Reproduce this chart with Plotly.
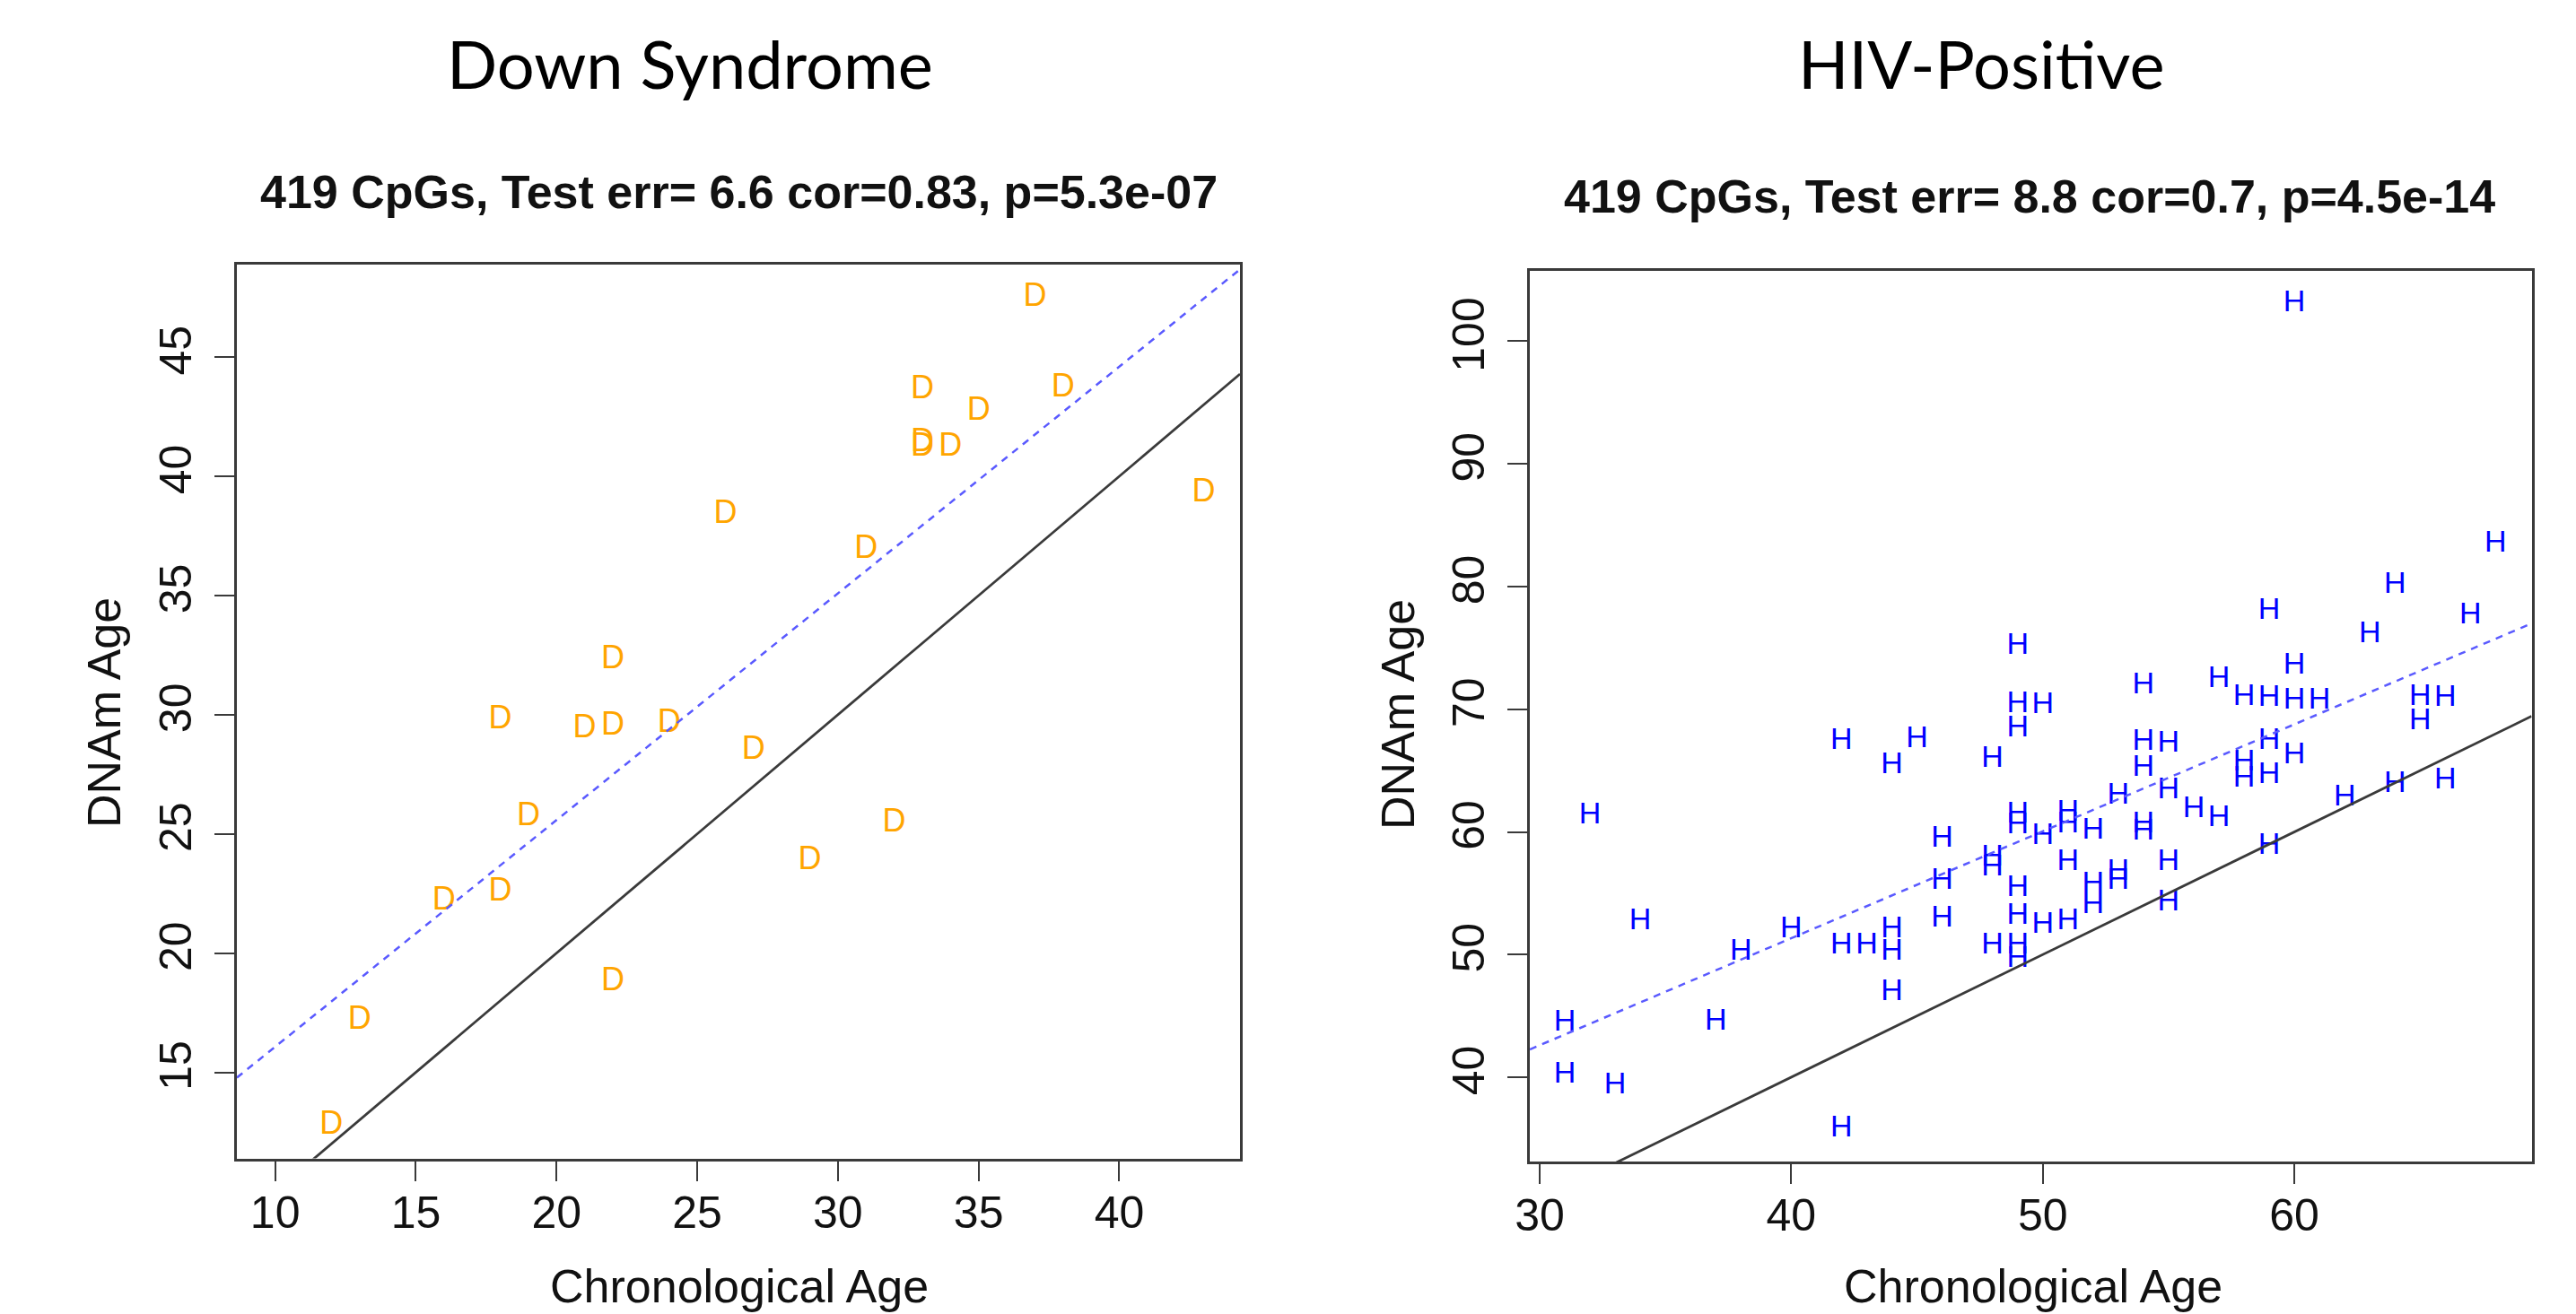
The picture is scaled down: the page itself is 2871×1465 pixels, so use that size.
import plotly.graph_objects as go

# ---------------- data ----------------
# Down Syndrome panel
ds_age = [37, 33, 38, 35, 33, 33, 34, 43, 26, 31, 22, 18, 21, 22, 24, 27,
          19, 32, 29, 16, 18, 22, 13, 12]
ds_dnam = [47.5, 43.6, 43.7, 42.7, 41.4, 41.2, 41.2, 39.3, 38.4, 36.9, 32.3,
           29.75, 29.4, 29.5, 29.6, 28.5, 25.7, 25.45, 23.85, 22.15, 22.55,
           18.8, 17.15, 12.75]
ds_fit_intercept = 6.56
ds_fit_slope = 0.951

# HIV-Positive panel
hiv_age = [31, 31, 32, 33, 34, 37, 38, 40,
           42, 42, 42, 43,
           44, 44, 44, 44, 45,
           46, 46, 46,
           48, 48, 48, 48,
           49, 49, 49, 49, 49, 49, 49, 49, 49,
           50, 50, 50,
           51, 51, 51, 51,
           52, 52, 52,
           53, 53, 53,
           54, 54, 54, 54, 54,
           55, 55, 55, 55,
           56, 57, 57,
           58, 58, 58,
           59, 59, 59, 59, 59,
           60, 60, 60, 60,
           61, 62, 63, 64, 64, 65, 65, 66, 66, 67, 68]
hiv_dnam = [44.4, 40.2, 61.3, 39.3, 52.7, 44.5, 50.2, 52.0,
            67.4, 50.7, 35.8, 50.7,
            65.4, 52.0, 50.2, 46.9, 67.5,
            59.4, 56.0, 52.9,
            65.9, 57.9, 57.1, 50.7,
            75.1, 70.4, 68.4, 61.4, 60.5, 55.4, 53.1, 50.7, 49.6,
            70.3, 59.6, 52.4,
            61.5, 60.6, 57.5, 52.7,
            60.1, 55.7, 54.0,
            62.9, 56.7, 56.0,
            71.9, 67.3, 65.2, 60.6, 60.0,
            67.2, 63.4, 57.5, 54.2,
            61.8, 72.4, 61.1,
            71.0, 65.6, 64.3,
            78.0, 70.9, 67.4, 64.6, 58.8,
            103.1, 73.5, 70.7, 66.2,
            70.7, 62.8, 76.1, 80.1, 63.9, 71.0, 69.0, 70.9, 64.2, 77.6, 83.5]
hiv_fit_intercept = 16.45
hiv_fit_slope = 0.872

ds_xrange = [8.64, 44.29]
ds_yrange = [11.39, 48.88]
hiv_xrange = [29.61, 69.43]
hiv_yrange = [33.13, 105.76]

ds_xticks = [10, 15, 20, 25, 30, 35, 40]
ds_yticks = [15, 20, 25, 30, 35, 40, 45]
hiv_xticks = [30, 40, 50, 60]
hiv_yticks = [40, 50, 60, 70, 80, 90, 100]

titles = ["Down Syndrome", "HIV-Positive"]
subtitles = ["419 CpGs, Test err= 6.6 cor=0.83, p=5.3e-07",
             "419 CpGs, Test err= 8.8 cor=0.7, p=4.5e-14"]
x_label = "Chronological Age"
y_label = "DNAm Age"

# ---------------- figure ----------------
W, H = 2871, 1465
FONT = "Liberation Sans, Arial, sans-serif"

fig = go.Figure()

def add_panel(xa, ya, ages, dnam, letter, color, size, xr, b0, b1):
    fig.add_trace(go.Scatter(
        x=ages, y=dnam, mode="text", text=[letter] * len(ages),
        textposition="middle center",
        textfont=dict(family=FONT, size=size, color=color),
        xaxis=xa, yaxis=ya, showlegend=False, hoverinfo="skip"))
    # identity line
    fig.add_trace(go.Scatter(
        x=xr, y=xr, mode="lines",
        line=dict(color="#3a3a3a", width=2.8),
        xaxis=xa, yaxis=ya, showlegend=False, hoverinfo="skip"))
    # regression line
    fig.add_trace(go.Scatter(
        x=xr, y=[b0 + b1 * v for v in xr], mode="lines",
        line=dict(color="#5a5aff", width=2.5, dash="8px,7px"),
        xaxis=xa, yaxis=ya, showlegend=False, hoverinfo="skip"))

add_panel("x", "y", ds_age, ds_dnam, "D", "#FFA500", 36, ds_xrange,
          ds_fit_intercept, ds_fit_slope)
add_panel("x2", "y2", hiv_age, hiv_dnam, "H", "#0000FF", 34, hiv_xrange,
          hiv_fit_intercept, hiv_fit_slope)

def axis_common(standoff):
    return dict(showline=True, mirror=True, linecolor="#3a3a3a", linewidth=3,
                ticks="outside", ticklen=22, tickwidth=2, tickcolor="#3a3a3a",
                showgrid=False, zeroline=False, automargin=False,
                ticklabelstandoff=standoff,
                tickfont=dict(family=FONT, size=50, color="#111"))

fig.update_layout(
    width=W, height=H,
    margin=dict(l=0, r=0, t=0, b=0),
    paper_bgcolor="white", plot_bgcolor="white",
    hovermode=False,
    xaxis=dict(domain=[264 / W, 1382 / W], range=ds_xrange,
               tickvals=ds_xticks, anchor="y", **axis_common(-8)),
    yaxis=dict(domain=[1 - 1291.5 / H, 1 - 295 / H], range=ds_yrange,
               tickvals=ds_yticks, tickangle=-90, anchor="x", **axis_common(6)),
    xaxis2=dict(domain=[1705 / W, 2821.5 / W], range=hiv_xrange,
                tickvals=hiv_xticks, anchor="y2", **axis_common(-8)),
    yaxis2=dict(domain=[1 - 1295 / H, 1 - 301.7 / H], range=hiv_yrange,
                tickvals=hiv_yticks, tickangle=-90, anchor="x2", **axis_common(6)),
)

ann = []
# big titles
for txt, cx in zip(titles, [769, 2208]):
    ann.append(dict(text=txt, x=cx / W, y=1 - 70 / H, xref="paper", yref="paper",
                    xanchor="center", yanchor="middle", showarrow=False,
                    font=dict(family="Lato, Open Sans, sans-serif", size=74, color="#000")))
# subtitles
for txt, cx, cy in zip(subtitles, [823, 2262], [214, 219]):
    ann.append(dict(text="<b>" + txt + "</b>", x=cx / W, y=1 - cy / H,
                    xref="paper", yref="paper", xanchor="center", yanchor="middle",
                    showarrow=False,
                    font=dict(family=FONT, size=52, color="#111")))
# x axis labels
for cx in [824, 2266]:
    ann.append(dict(text=x_label, x=cx / W, y=1 - 1434 / H, xref="paper", yref="paper",
                    xanchor="center", yanchor="middle", showarrow=False,
                    font=dict(family=FONT, size=52, color="#111")))
# y axis labels
for cx, cy in [(116, 795), (1558, 797)]:
    ann.append(dict(text=y_label, x=cx / W, y=1 - cy / H, xref="paper", yref="paper",
                    xanchor="center", yanchor="middle", textangle=-90, showarrow=False,
                    font=dict(family=FONT, size=52, color="#111")))
fig.update_layout(annotations=ann)

fig.write_html("out.html")
